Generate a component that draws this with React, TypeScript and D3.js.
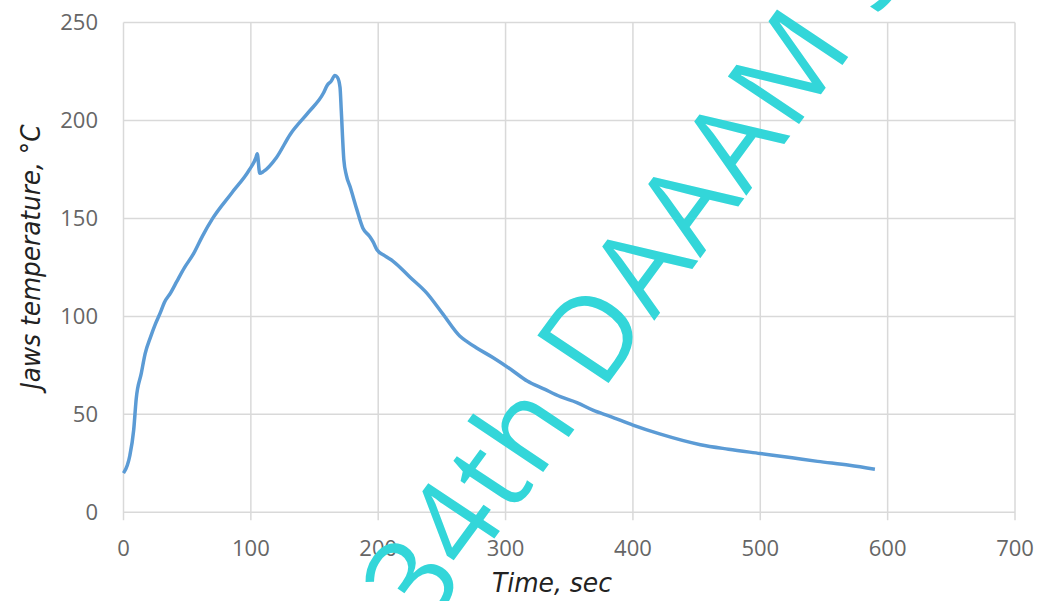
import React, {useRef, useEffect} from 'react';
import * as d3 from 'd3';

// time, sec
const timeSec = [0, 3, 5, 8, 10, 14, 17, 21, 25, 29, 32, 37, 42, 48, 55, 62, 70, 85, 99, 104, 105, 107, 110, 120, 131, 145, 157, 160, 163, 166, 168, 170, 171, 173, 175, 178, 183, 188, 193, 196, 199, 205, 212, 225, 238, 251, 264, 270, 277, 290, 304, 317, 330, 343, 356, 369, 382, 400, 421, 453, 475, 500, 525, 545, 570, 590];
// jaws temperature, °C
const jawsTemp = [20, 24, 29, 42, 58, 71, 81, 89, 96, 102, 107, 112, 118, 125, 132, 141, 150, 163, 175, 181, 183, 173, 174, 181, 193, 204, 214, 218, 220, 223, 222, 217, 205, 180, 172, 166, 155, 145, 141, 138, 134, 131, 128, 120, 112, 101, 90, 87, 84, 79, 73, 67, 63, 59, 56, 52, 49, 44.5, 40, 34.5, 32.2, 30, 27.8, 26, 24, 22];

const xTicks = [0, 100, 200, 300, 400, 500, 600, 700];
const yTicks = [0, 50, 100, 150, 200, 250];

const W = 1041, H = 601;

const App = () => {
    const svgRef = useRef<SVGSVGElement>(null);

    useEffect(() => {
        const svg = d3.select(svgRef.current);
        svg.selectAll('*').remove();

        const x = d3.scaleLinear().domain([0, 700]).range([123.5, 1015]);
        const y = d3.scaleLinear().domain([0, 250]).range([512.3, 22.5]);

        const grid = svg.append('g');
        // horizontal grid
        grid.selectAll('.hg').data(yTicks).join('line')
            .attr('x1', x(0)).attr('x2', x(700))
            .attr('y1', d => y(d)).attr('y2', d => y(d))
            .attr('stroke', '#d9d9d9').attr('stroke-width', 1.5);
        // vertical grid + ticks under the axis
        grid.selectAll('.vg').data(xTicks).join('line')
            .attr('x1', d => x(d)).attr('x2', d => x(d))
            .attr('y1', y(250)).attr('y2', y(0) + 8)
            .attr('stroke', '#d9d9d9').attr('stroke-width', 1.5);

        const tickFont = "'Open Sans', sans-serif";
        svg.append('g').selectAll('text').data(yTicks).join('text')
            .attr('x', 98).attr('y', d => y(d))
            .attr('dy', '0.35em')
            .attr('text-anchor', 'end')
            .attr('font-family', tickFont).attr('font-size', 22)
            .attr('fill', '#666')
            .text(d => d);

        svg.append('g').selectAll('text').data(xTicks).join('text')
            .attr('x', d => x(d)).attr('y', 556)
            .attr('text-anchor', 'middle')
            .attr('font-family', tickFont).attr('font-size', 22)
            .attr('fill', '#666')
            .text(d => d);

        const data = timeSec.map((t, i) => [t, jawsTemp[i]] as [number, number]);
        const line = d3.line<[number, number]>()
            .x(d => x(d[0]))
            .y(d => y(d[1]))
            .curve(d3.curveMonotoneX);

        svg.append('path')
            .datum(data)
            .attr('d', line)
            .attr('fill', 'none')
            .attr('stroke', '#5b9bd5')
            .attr('stroke-width', 3.5)
            .attr('stroke-linejoin', 'round');

        const titleFont = "'DejaVu Sans Condensed', 'DejaVu Sans', sans-serif";
        svg.append('text')
            .attr('x', 552).attr('y', 592)
            .attr('text-anchor', 'middle')
            .attr('font-family', titleFont).attr('font-style', 'italic')
            .attr('font-size', 27).attr('fill', '#222')
            .attr('textLength', 120).attr('lengthAdjust', 'spacingAndGlyphs')
            .text('Time, sec');

        svg.append('text')
            .attr('transform', 'translate(40,257) rotate(-90)')
            .attr('text-anchor', 'middle')
            .attr('font-family', titleFont).attr('font-style', 'italic')
            .attr('font-size', 27).attr('fill', '#222')
            .attr('textLength', 265).attr('lengthAdjust', 'spacingAndGlyphs')
            .text('Jaws temperature, °C');

        // watermark over the chart (runs off the picture, as in the source)
        svg.append('text')
            .attr('transform', 'translate(427,630) scale(1.05,1) rotate(-55)')
            .attr('font-family', "'Open Sans', sans-serif")
            .attr('font-size', 116)
            .attr('letter-spacing', 3)
            .attr('fill', '#33d6d9')
            .text('34th DAAAM S');
    }, []);

    return (
        <svg ref={svgRef} width={W} height={H}
             style={{position: 'absolute', left: 0, top: 0, background: '#fff'}}/>
    );
};

export default App;
